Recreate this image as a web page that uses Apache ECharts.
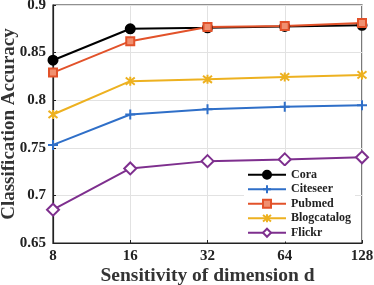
<!DOCTYPE html>
<html><head><meta charset="utf-8">
<script src="https://cdn.jsdelivr.net/npm/echarts@6/dist/echarts.min.js"></script>
<style>html,body{margin:0;padding:0;background:#fff}#c{width:374px;height:285px}</style>
</head><body><div id="c"></div>
<script>
const categories = ['8', '16', '32', '64', '128'];
const cora = [0.842, 0.875, 0.876, 0.8775, 0.8786];
const citeseer = [0.753, 0.785, 0.7904, 0.793, 0.7947];
const pubmed = [0.829, 0.862, 0.877, 0.878, 0.881];
const blogcatalog = [0.785, 0.820, 0.822, 0.8245, 0.8266];
const flickr = [0.685, 0.7283, 0.736, 0.7378, 0.740];
const seriesNames = ['Cora', 'Citeseer', 'Pubmed', 'Blogcatalog', 'Flickr'];

const font = 'Liberation Serif';
const plus = 'path://M0,-5 L0,5 M-5,0 L5,0';
const cross = 'path://M-4,-4 L4,4 M-4,4 L4,-4 M0,-5 L0,5';
const specs = [
  {name: seriesNames[0], data: cora, color: '#000000', symbol: 'circle', size: 9, fill: '#000000'},
  {name: seriesNames[1], data: citeseer, color: '#2F6FC8', symbol: plus, size: 10, fill: 'none'},
  {name: seriesNames[2], data: pubmed, color: '#E2522A', symbol: 'rect', size: 8, fill: '#F09070'},
  {name: seriesNames[3], data: blogcatalog, color: '#EDB120', symbol: cross, size: 9, fill: 'none'},
  {name: seriesNames[4], data: flickr, color: '#7E2F8E', symbol: 'diamond', size: 12, fill: '#ffffff'}
];

const chart = echarts.init(document.getElementById('c'), null, {renderer: 'canvas'});
chart.setOption({
  animation: false,
  grid: {left: 53, right: 12, top: 5, bottom: 42, show: true, borderColor: '#222', borderWidth: 1.2,
    backgroundColor: 'transparent', containLabel: false, outerBoundsMode: 'none'},
  xAxis: {
    type: 'category', data: categories, boundaryGap: false,
    axisLine: {lineStyle: {color: '#222', width: 1.2}},
    axisTick: {inside: true, length: 3, lineStyle: {color: '#222'}},
    splitLine: {show: true, lineStyle: {color: '#e2e2e2', width: 1}},
    axisLabel: {color: '#222', fontFamily: font, fontWeight: 'bold', fontSize: 15, margin: 6},
    name: 'Sensitivity of dimension d', nameLocation: 'middle', nameGap: 23, nameMoveOverlap: false,
    nameTextStyle: {color: '#333', fontFamily: font, fontWeight: 'bold', fontSize: 19.5}
  },
  yAxis: {
    type: 'value', min: 0.65, max: 0.9, interval: 0.05,
    axisLine: {show: true, lineStyle: {color: '#222', width: 1.2}},
    axisTick: {show: true, inside: true, length: 3, lineStyle: {color: '#222'}},
    splitLine: {show: true, lineStyle: {color: '#e2e2e2', width: 1}},
    axisLabel: {color: '#222', fontFamily: font, fontWeight: 'bold', fontSize: 15, margin: 7,
      formatter: v => String(parseFloat(v.toFixed(2)))},
    name: 'Classification Accuracy', nameLocation: 'middle', nameGap: 34, nameMoveOverlap: false,
    nameTextStyle: {color: '#333', fontFamily: font, fontWeight: 'bold', fontSize: 19}
  },
  legend: {
    data: seriesNames, orient: 'vertical', left: 244, top: 166,
    itemWidth: 38, itemHeight: 10, itemGap: 1, padding: [2, 4, 2, 3],
    backgroundColor: '#fff',
    textStyle: {color: '#222', fontFamily: font, fontWeight: 'bold', fontSize: 12, lineHeight: 13.5}
  },
  series: specs.map(s => ({
    name: s.name, type: 'line', data: s.data,
    symbol: s.symbol, symbolSize: s.size, showSymbol: true,
    lineStyle: {color: s.color, width: 2},
    itemStyle: {color: s.fill, borderColor: s.color, borderWidth: 2},
    emphasis: {disabled: true}
  }))
});
</script></body></html>
